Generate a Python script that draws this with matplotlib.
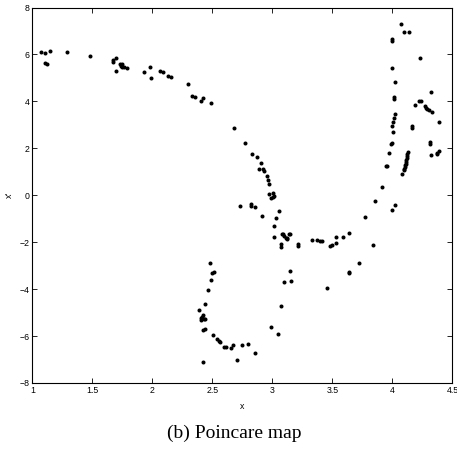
import matplotlib.pyplot as plt

plt.rcParams['font.family'] = ['Liberation Sans', 'DejaVu Sans']

# upper branch (top left, going down to the right)
x_top = [1.073, 1.107, 1.148, 1.104, 1.123, 1.285, 1.482, 1.671, 1.673, 1.696,
         1.696, 1.729, 1.746, 1.746, 1.765, 1.785, 1.735, 1.929, 1.982, 1.985,
         2.065, 2.088, 2.129, 2.152, 2.293, 2.329, 2.357, 2.404, 2.421, 2.488,
         2.677, 2.768]
y_top = [6.12, 6.05, 6.16, 5.65, 5.61, 6.09, 5.92, 5.75, 5.67, 5.85,
         5.31, 5.58, 5.61, 5.48, 5.46, 5.44, 5.52, 5.24, 5.48, 5.00,
         5.31, 5.26, 5.09, 5.05, 4.75, 4.24, 4.17, 4.03, 4.13, 3.93,
         2.88, 2.23]

# middle branch (falling curve and the flat part near -2)
x_mid = [2.827, 2.868, 2.904, 2.888, 2.925, 2.927, 2.952, 2.962, 2.975, 2.975,
         3.004, 3.014, 2.988, 3.002, 2.727, 2.817, 2.823, 2.857, 2.915, 3.052,
         3.029, 3.010, 3.015, 3.077, 3.088, 3.098, 3.110, 3.121, 3.135, 3.118,
         3.067, 3.071, 3.213, 3.214, 3.146, 3.328, 3.375, 3.392, 3.413, 3.479,
         3.493, 3.531, 3.531, 3.590, 3.638, 3.773, 3.852, 3.838, 3.719, 3.636,
         3.640, 3.452, 3.146, 3.098, 3.152, 3.068, 2.988, 3.046]
y_mid = [1.74, 1.62, 1.36, 1.14, 1.11, 1.05, 0.84, 0.65, 0.46, 0.05,
         0.10, -0.04, -0.13, -0.09, -0.45, -0.38, -0.44, -0.51, -0.88, -0.66,
         -0.96, -1.32, -1.79, -1.65, -1.66, -1.74, -1.83, -1.81, -1.67, -1.88,
         -2.06, -2.19, -2.09, -2.18, -1.65, -1.90, -1.89, -1.94, -1.97, -2.15,
         -2.10, -2.03, -1.77, -1.76, -1.60, -0.94, -0.25, -2.13, -2.90, -3.28,
         -3.31, -3.96, -3.23, -3.70, -3.67, -4.71, -5.61, -5.90]

# lower loop
x_low = [2.477, 2.498, 2.510, 2.485, 2.463, 2.440, 2.388, 2.413, 2.404, 2.421,
         2.427, 2.435, 2.404, 2.423, 2.438, 2.421, 2.504, 2.538, 2.552, 2.563,
         2.596, 2.613, 2.652, 2.675, 2.704, 2.746, 2.798, 2.853]
y_low = [-2.90, -3.30, -3.26, -3.61, -4.05, -4.63, -4.89, -5.17, -5.30, -5.10,
         -5.26, -5.27, -5.23, -5.74, -5.71, -7.10, -5.97, -6.12, -6.20, -6.24,
         -6.47, -6.48, -6.51, -6.37, -7.03, -6.40, -6.34, -6.74]

# right branch
x_right = [4.071, 4.096, 4.135, 3.998, 3.996, 4.229, 3.993, 4.018, 4.013, 4.013,
           4.318, 4.190, 4.221, 4.235, 4.271, 4.285, 4.304, 4.327, 4.279, 4.018,
           4.010, 4.008, 4.000, 4.002, 4.165, 4.160, 4.388, 3.992, 3.986, 4.313,
           4.315, 4.318, 3.973, 4.373, 4.389, 4.371, 3.946, 3.958,
           4.127, 4.124, 4.121, 4.118, 4.115, 4.112, 4.109, 4.106, 4.103, 4.100,
           4.097, 4.083, 3.910, 4.019, 3.996]
y_right = [7.31, 6.97, 6.97, 6.59, 6.65, 5.85, 5.43, 4.84, 4.19, 4.09,
           4.41, 3.83, 4.02, 4.02, 3.82, 3.68, 3.63, 3.56, 3.71, 3.46,
           3.28, 3.13, 2.93, 2.70, 2.95, 2.87, 3.12, 2.24, 2.18, 2.26,
           2.18, 1.73, 1.81, 1.79, 1.88, 1.75, 1.26, 1.26,
           1.83, 1.75, 1.67, 1.59, 1.51, 1.43, 1.35, 1.27, 1.19, 1.12,
           1.08, 0.91, 0.36, -0.40, -0.63]

fig = plt.figure(figsize=(4.57, 4.50), dpi=100)
ax = fig.add_axes([0.0711, 0.1489, 0.919, 0.8344])

for xs, ys in [(x_top, y_top), (x_mid, y_mid), (x_low, y_low), (x_right, y_right)]:
    ax.plot(xs, ys, 'o', color='black', markersize=2.9, markeredgewidth=0)

ax.set_xlim(1, 4.5)
ax.set_ylim(-8, 8)
ax.set_xticks([1, 1.5, 2, 2.5, 3, 3.5, 4, 4.5])
ax.set_xticklabels(['1', '1.5', '2', '2.5', '3', '3.5', '4', '4.5'])
ax.set_yticks(range(-8, 9, 2))
ax.tick_params(direction='in', top=True, right=True, length=3.5, width=0.6,
               labelsize=6.3, pad=2)
for s in ax.spines.values():
    s.set_linewidth(0.8)

ax.set_xlabel('x', fontsize=6.3, labelpad=5)
ax.set_ylabel("x'", fontsize=6.3, labelpad=4)

fig.text(0.512, 0.036, '(b) Poincare map', ha='center', va='center',
         fontsize=14, family='Liberation Serif')

fig.savefig('out.png', dpi=100)
